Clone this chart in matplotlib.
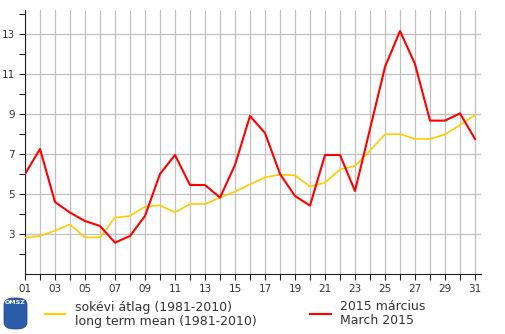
import numpy as np
import matplotlib
matplotlib.use('Agg')
import matplotlib.pyplot as plt
from matplotlib.patches import FancyBboxPatch
from matplotlib.lines import Line2D

days = list(range(1, 32))
march_2015 = [6.0, 7.25, 4.6, 4.07, 3.65, 3.4, 2.57, 2.9, 3.9, 6.0,
              6.95, 5.45, 5.45, 4.82, 6.45, 8.9, 8.05, 6.0, 4.9, 4.42,
              6.95, 6.95, 5.15, 8.25, 11.35, 13.15, 11.5, 8.67, 8.67, 9.03,
              7.75]
long_term_mean = [2.82, 2.9, 3.17, 3.48, 2.83, 2.83, 3.82, 3.9, 4.37, 4.43,
                  4.08, 4.5, 4.5, 4.82, 5.12, 5.48, 5.83, 5.97, 5.93, 5.37,
                  5.57, 6.23, 6.4, 7.17, 7.98, 8.0, 7.75, 7.75, 7.98, 8.45,
                  8.95]
x_labels = ['%02d' % d for d in days]

W, H = 505, 334
fig = plt.figure(figsize=(W / 100, H / 100), dpi=100)
ax = fig.add_axes([25 / W, 1 - 274 / H, 456 / W, 264 / H])

ax.plot(days, long_term_mean, color='#ffcc00', lw=1.2, zorder=3)
ax.plot(days, march_2015, color='#ff0000', lw=1.5, zorder=4)

ax.set_xlim(1, 31.4)
ax.set_ylim(1, 14.2)
ax.set_xticks(days)
ax.set_xticklabels([l if int(l) % 2 == 1 else '' for l in x_labels])
ax.set_yticks([3, 5, 7, 9, 11, 13])
ax.set_yticks([2, 4, 6, 8, 10, 12, 14], minor=True)
ax.grid(True, which='major', color='#c0c0c0', lw=0.9, zorder=1)
ax.tick_params(axis='both', which='both', direction='out', length=4,
               color='#222222', labelsize=7.5, labelcolor='#333333', width=0.8)
ax.tick_params(axis='x', pad=3)
for s in ['top', 'right']:
    ax.spines[s].set_visible(False)
for s in ['left', 'bottom']:
    ax.spines[s].set_color('#222222')
    ax.spines[s].set_linewidth(0.8)

# legend
fig.add_artist(Line2D([45 / W, 65 / W], [1 - 314 / H, 1 - 314 / H],
                      color='#ffcc00', lw=1.5))
fig.text(75 / W, 1 - 307 / H, 'sokévi átlag (1981-2010)', fontsize=9,
         color='#333333', va='center')
fig.text(75 / W, 1 - 321 / H, 'long term mean (1981-2010)', fontsize=9,
         color='#333333', va='center')
fig.add_artist(Line2D([310 / W, 331 / W], [1 - 314 / H, 1 - 314 / H],
                      color='#ff0000', lw=1.5))
fig.text(340 / W, 1 - 307 / H, '2015 március', fontsize=9,
         color='#333333', va='center')
fig.text(340 / W, 1 - 321 / H, 'March 2015', fontsize=9,
         color='#333333', va='center')

# logo
fig.add_artist(FancyBboxPatch((4 / W, 1 - 329 / H), 23 / W, 31 / H,
                              boxstyle='round,pad=0,rounding_size=0.02',
                              transform=fig.transFigure, facecolor='#2a5caa',
                              edgecolor='#1d3f7a', lw=0.5))
fig.text(15.5 / W, 1 - 302 / H, 'OMSZ', fontsize=4.5, color='white',
         ha='center', va='center', weight='bold')

fig.savefig('out.png', dpi=100)
